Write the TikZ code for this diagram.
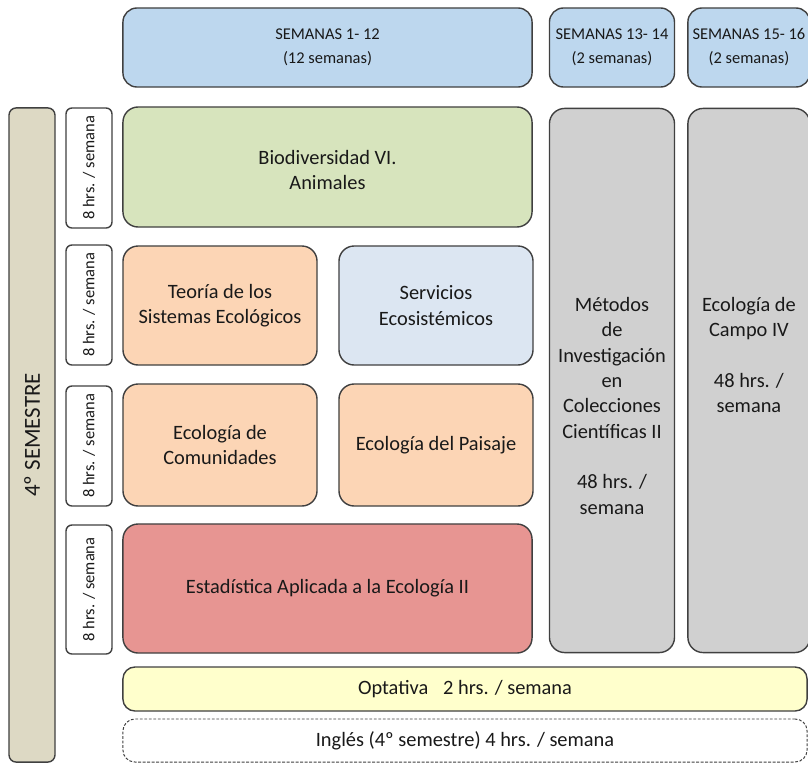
\documentclass[tikz,border=0pt]{standalone}
\usepackage{fontspec}
\setmainfont{Carlito}
\usepackage{xcolor}
\usetikzlibrary{positioning}

\definecolor{edge}{RGB}{64,64,64}
\definecolor{ink}{RGB}{25,25,25}
\definecolor{semblue}{RGB}{189,215,238}
\definecolor{paleblue}{RGB}{220,230,242}
\definecolor{bioGreen}{RGB}{215,228,189}
\definecolor{peach}{RGB}{252,213,181}
\definecolor{rose}{RGB}{231,149,146}
\definecolor{slate}{RGB}{208,208,208}
\definecolor{tan}{RGB}{221,217,196}
\definecolor{cream}{RGB}{255,255,204}

\begin{document}
\begin{tikzpicture}[x=0.025cm,y=-0.025cm]

\tikzset{cell/.style={draw=edge, line width=1pt, rounded corners=0.38cm, text=ink, align=center, inner sep=0pt,
    font=\fontsize{14.5}{18}\selectfont},
  week/.style={cell, fill=semblue, rounded corners=0.35cm, minimum height=1.975cm,
    font=\fontsize{11.7}{17}\selectfont},
  hrs/.style={cell, fill=white, rotate=90, rounded corners=0.15cm, minimum width=3cm, minimum height=1.15cm,
    font=\fontsize{11.7}{14}\selectfont},
  lab/.style={cell, fill=slate, minimum width=3.125cm, minimum height=13.6cm}}

\useasboundingbox (0,0) rectangle (808,763);

% semanas
\node[week, minimum width=10.225cm] (sem112) at (327.5,47.5) {SEMANAS 1- 12\\(12 semanas)};
\node[week, minimum width=3.125cm, right=0.4cm of sem112] (sem1314) {SEMANAS 13- 14\\(2 semanas)};
\node[week, minimum width=3.05cm, right=0.3cm of sem1314] (sem1516) {SEMANAS 15- 16\\(2 semanas)};

\node[cell, fill=tan, rotate=90, rounded corners=0.18cm, minimum width=16.35cm, minimum height=1.15cm,
  font=\fontsize{16.3}{18}\selectfont] (semestre) at (32,435) {4º SEMESTRE};

\node[hrs] (hrs1) at (89,168) {8 hrs. / semana};
\node[hrs] (hrs2) at (89,305) {8 hrs. / semana};
\node[hrs] (hrs3) at (89,446) {8 hrs. / semana};
\node[hrs, minimum width=3.225cm] (hrs4) at (89,589.5) {8 hrs. / semana};

\node[cell, fill=bioGreen, minimum width=10.225cm, minimum height=3cm] (bio) at (327.5,167) {\\[-4pt]Biodiversidad VI.\\Animales};
\node[cell, fill=peach, minimum width=4.85cm, minimum height=2.975cm] (teoria) at (220,305.5) {Teoría de los\\Sistemas Ecológicos};
\node[cell, fill=paleblue, minimum width=4.85cm, minimum height=2.975cm] (servicios) at (436,305.5) {Servicios\\Ecosistémicos};
\node[cell, fill=peach, minimum width=4.85cm, minimum height=3.05cm] (comunidades) at (220,445) {Ecología de\\Comunidades};
\node[cell, fill=peach, minimum width=4.85cm, minimum height=3.05cm] (paisaje) at (436,445) {Ecología del Paisaje};
\node[cell, fill=rose, minimum width=10.225cm, minimum height=3.225cm] (estadistica) at (327.5,588.5) {Estadística Aplicada a la Ecología II};

\node[lab, below=0.5cm of sem1314] (metodos) {\mbox{}\\[10pt]\mbox{}\\Métodos\\de\\Investigación\\en\\Colecciones\\Científicas II\\\mbox{}\\48 hrs. /\\semana};
\node[lab, minimum width=3.05cm, below=0.5cm of sem1516] (campo) {Ecología de\\Campo IV\\\mbox{}\\48 hrs. /\\semana\\\mbox{}\\\mbox{}};

\node[cell, fill=cream, rounded corners=0.3cm, minimum width=17.1cm, minimum height=1.1cm] (optativa) at (465,689) {Optativa\hspace{0.5em} 2 hrs. / semana};
\node[cell, fill=white, dash pattern=on 2pt off 1.2pt, line width=0.7pt, rounded corners=0.3cm, minimum width=17.1cm,
  minimum height=1.075cm] (ingles) at (465,740.5) {Inglés (4º semestre) 4 hrs. / semana};

\end{tikzpicture}
\end{document}
